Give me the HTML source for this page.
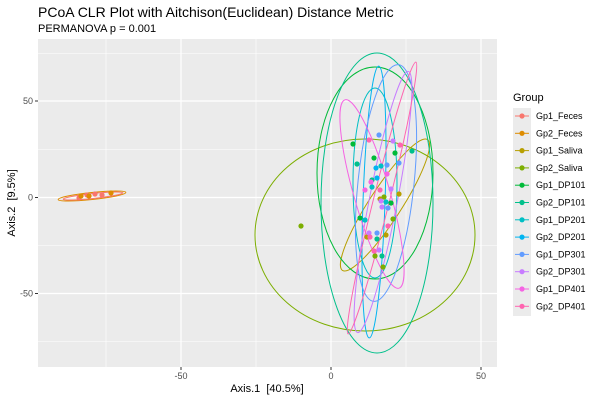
<!DOCTYPE html>
<html><head><meta charset="utf-8"><style>
body{margin:0;background:#fff;}
svg text{font-family:"Liberation Sans","DejaVu Sans",sans-serif;}
</style></head><body>
<svg width="600" height="400" viewBox="0 0 600 400" xmlns="http://www.w3.org/2000/svg">
<rect width="600" height="400" fill="#fff"/>
<text x="38" y="17" font-size="14" fill="#000">PCoA CLR Plot with Aitchison(Euclidean) Distance Metric</text>
<text x="38" y="32" font-size="11" fill="#000">PERMANOVA p = 0.001</text>
<rect x="38" y="39" width="459" height="328" fill="#ebebeb"/>
<g stroke="#fff" stroke-width="0.6">
<line x1="106" y1="39" x2="106" y2="367"/><line x1="256" y1="39" x2="256" y2="367"/><line x1="406" y1="39" x2="406" y2="367"/>
<line x1="38" y1="53.5" x2="497" y2="53.5"/><line x1="38" y1="149.5" x2="497" y2="149.5"/><line x1="38" y1="245.5" x2="497" y2="245.5"/><line x1="38" y1="341.5" x2="497" y2="341.5"/>
</g>
<g stroke="#fff" stroke-width="1.2">
<line x1="181" y1="39" x2="181" y2="367"/><line x1="331" y1="39" x2="331" y2="367"/><line x1="481" y1="39" x2="481" y2="367"/>
<line x1="38" y1="101" x2="497" y2="101"/><line x1="38" y1="197.5" x2="497" y2="197.5"/><line x1="38" y1="293.5" x2="497" y2="293.5"/>
</g>
<g fill="none" stroke-width="1">
<ellipse cx="92" cy="196" rx="34" ry="3.5" transform="rotate(-6 92 196)" stroke="#DE8C00"/>
<ellipse cx="93" cy="196" rx="30" ry="2.5" transform="rotate(-6 93 196)" stroke="#F8766D"/>
<ellipse cx="365" cy="235" rx="110" ry="96" stroke="#7CAE00"/>
<ellipse cx="385" cy="205" rx="78" ry="16" transform="rotate(-57 385 205)" stroke="#B79F00"/>
<ellipse cx="375" cy="173" rx="58" ry="106" stroke="#00BA38"/>
<ellipse cx="377" cy="203" rx="56" ry="150" stroke="#00C08B"/>
<ellipse cx="375" cy="183" rx="22" ry="95" stroke="#00BFC4"/>
<ellipse cx="374" cy="202" rx="11" ry="136" transform="rotate(2 374 202)" stroke="#00B4F0"/>
<ellipse cx="386" cy="183" rx="28" ry="119" transform="rotate(6 386 183)" stroke="#619CFF"/>
<ellipse cx="383" cy="202" rx="14" ry="133" transform="rotate(11 383 202)" stroke="#C77CFF"/>
<ellipse cx="372" cy="194" rx="18" ry="98" transform="rotate(-16 372 194)" stroke="#F564E3"/>
<ellipse cx="382" cy="198" rx="8" ry="140" transform="rotate(14 382 198)" stroke="#FF64B0"/>
</g>
<g stroke="none">
<g fill="#F8766D"><circle cx="79" cy="198" r="2.6"/><circle cx="87" cy="195" r="2.6"/><circle cx="95" cy="194" r="2.6"/><circle cx="102" cy="195" r="2.6"/></g>
<g fill="#DE8C00"><circle cx="81" cy="196" r="2.6"/><circle cx="89" cy="196" r="2.6"/><circle cx="111" cy="193" r="2.6"/></g>
<g fill="#7CAE00"><circle cx="301" cy="226" r="2.6"/><circle cx="393" cy="219" r="2.6"/><circle cx="375" cy="256" r="2.6"/><circle cx="383" cy="267" r="2.6"/><circle cx="384" cy="197" r="2.6"/></g>
<g fill="#B79F00"><circle cx="399" cy="194" r="2.6"/><circle cx="380" cy="199" r="2.6"/><circle cx="386" cy="235" r="2.6"/><circle cx="367" cy="237" r="2.6"/></g>
<g fill="#00BA38"><circle cx="353" cy="144" r="2.6"/><circle cx="374" cy="158" r="2.6"/><circle cx="395" cy="153" r="2.6"/><circle cx="360" cy="218" r="2.6"/><circle cx="391" cy="203" r="2.6"/></g>
<g fill="#00C08B"><circle cx="412" cy="151" r="2.6"/><circle cx="377" cy="239" r="2.6"/><circle cx="382" cy="256" r="2.6"/><circle cx="372" cy="180" r="2.6"/><circle cx="357" cy="164" r="2.6"/></g>
<g fill="#00BFC4"><circle cx="381" cy="166" r="2.6"/><circle cx="365" cy="220" r="2.6"/><circle cx="372" cy="187" r="2.6"/><circle cx="386" cy="202" r="2.6"/></g>
<g fill="#00B4F0"><circle cx="376" cy="168" r="2.6"/><circle cx="377" cy="178" r="2.6"/></g>
<g fill="#619CFF"><circle cx="379" cy="135" r="2.6"/><circle cx="399" cy="163" r="2.6"/><circle cx="387" cy="165" r="2.6"/><circle cx="388" cy="208" r="2.6"/><circle cx="377" cy="233" r="2.6"/></g>
<g fill="#C77CFF"><circle cx="393" cy="141" r="2.6"/><circle cx="391" cy="189" r="2.6"/><circle cx="381" cy="201" r="2.6"/><circle cx="382" cy="207" r="2.6"/><circle cx="379" cy="250" r="2.6"/><circle cx="369" cy="233" r="2.6"/></g>
<g fill="#F564E3"><circle cx="371" cy="182" r="2.6"/><circle cx="365" cy="190" r="2.6"/><circle cx="387" cy="174" r="2.6"/></g>
<g fill="#FF64B0"><circle cx="369" cy="140" r="2.6"/><circle cx="400" cy="145" r="2.6"/><circle cx="380" cy="190" r="2.6"/><circle cx="388" cy="226" r="2.6"/><circle cx="370" cy="237" r="2.6"/><circle cx="374" cy="251" r="2.6"/></g>
</g>
<g stroke="#333" stroke-width="1">
<line x1="35" y1="101" x2="38" y2="101"/><line x1="35" y1="197.5" x2="38" y2="197.5"/><line x1="35" y1="293.5" x2="38" y2="293.5"/>
<line x1="181" y1="367" x2="181" y2="370"/><line x1="331" y1="367" x2="331" y2="370"/><line x1="481" y1="367" x2="481" y2="370"/>
</g>
<g font-size="9" fill="#4d4d4d">
<text x="33" y="104" text-anchor="end">50</text>
<text x="33" y="200.5" text-anchor="end">0</text>
<text x="33" y="296.5" text-anchor="end">-50</text>
<text x="181" y="379" text-anchor="middle">-50</text>
<text x="331" y="379" text-anchor="middle">0</text>
<text x="481" y="379" text-anchor="middle">50</text>
</g>
<text x="267" y="392" font-size="11" text-anchor="middle">Axis.1 &#160;[40.5%]</text>
<text transform="translate(15 203) rotate(-90)" font-size="11" text-anchor="middle">Axis.2 &#160;[9.5%]</text>
<text x="513" y="101" font-size="11">Group</text>
<rect x="513" y="108" width="18" height="208" fill="#ebebeb"/>
<g font-size="9" fill="#000">
<g transform="translate(0 116)"><line x1="515" x2="529" stroke="#F8766D"/><circle cx="522" r="2.6" fill="#F8766D"/><text x="536" y="3">Gp1_Feces</text></g>
<g transform="translate(0 133.3)"><line x1="515" x2="529" stroke="#DE8C00"/><circle cx="522" r="2.6" fill="#DE8C00"/><text x="536" y="3">Gp2_Feces</text></g>
<g transform="translate(0 150.6)"><line x1="515" x2="529" stroke="#B79F00"/><circle cx="522" r="2.6" fill="#B79F00"/><text x="536" y="3">Gp1_Saliva</text></g>
<g transform="translate(0 167.9)"><line x1="515" x2="529" stroke="#7CAE00"/><circle cx="522" r="2.6" fill="#7CAE00"/><text x="536" y="3">Gp2_Saliva</text></g>
<g transform="translate(0 185.2)"><line x1="515" x2="529" stroke="#00BA38"/><circle cx="522" r="2.6" fill="#00BA38"/><text x="536" y="3">Gp1_DP101</text></g>
<g transform="translate(0 202.5)"><line x1="515" x2="529" stroke="#00C08B"/><circle cx="522" r="2.6" fill="#00C08B"/><text x="536" y="3">Gp2_DP101</text></g>
<g transform="translate(0 219.8)"><line x1="515" x2="529" stroke="#00BFC4"/><circle cx="522" r="2.6" fill="#00BFC4"/><text x="536" y="3">Gp1_DP201</text></g>
<g transform="translate(0 237.1)"><line x1="515" x2="529" stroke="#00B4F0"/><circle cx="522" r="2.6" fill="#00B4F0"/><text x="536" y="3">Gp2_DP201</text></g>
<g transform="translate(0 254.4)"><line x1="515" x2="529" stroke="#619CFF"/><circle cx="522" r="2.6" fill="#619CFF"/><text x="536" y="3">Gp1_DP301</text></g>
<g transform="translate(0 271.7)"><line x1="515" x2="529" stroke="#C77CFF"/><circle cx="522" r="2.6" fill="#C77CFF"/><text x="536" y="3">Gp2_DP301</text></g>
<g transform="translate(0 289)"><line x1="515" x2="529" stroke="#F564E3"/><circle cx="522" r="2.6" fill="#F564E3"/><text x="536" y="3">Gp1_DP401</text></g>
<g transform="translate(0 306.3)"><line x1="515" x2="529" stroke="#FF64B0"/><circle cx="522" r="2.6" fill="#FF64B0"/><text x="536" y="3">Gp2_DP401</text></g>
</g>
</svg>
</body></html>
